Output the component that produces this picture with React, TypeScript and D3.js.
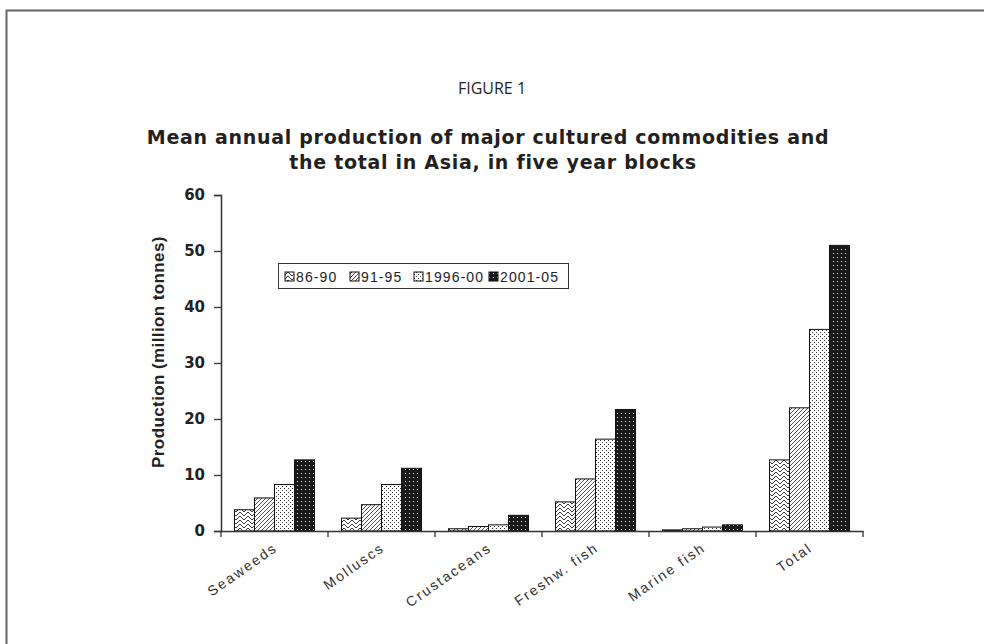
import * as d3 from "d3";
import { useEffect, useRef } from "react";

const categories = ["Seaweeds", "Molluscs", "Crustaceans", "Freshw. fish", "Marine fish", "Total"];
const series = ["86-90", "91-95", "1996-00", "2001-05"];
const v8690 = [3.8, 2.3, 0.4, 5.2, 0.2, 12.7];
const v9195 = [5.9, 4.7, 0.8, 9.3, 0.4, 22.0];
const v9600 = [8.3, 8.3, 1.1, 16.4, 0.7, 36.0];
const v0105 = [12.7, 11.2, 2.8, 21.7, 1.1, 51.0];
const yTicks = [0, 10, 20, 30, 40, 50, 60];

const App = () => {
  const svgRef = useRef(null);

  useEffect(() => {
    const svg = d3.select(svgRef.current);
    svg.selectAll("*").remove();

    const values = [v8690, v9195, v9600, v0105];
    const fills = ["url(#zig)", "url(#hatch)", "url(#dots)", "url(#dark)"];

    // patterns
    const defs = svg.append("defs");
    const zig = defs.append("pattern").attr("id", "zig").attr("patternUnits", "userSpaceOnUse")
      .attr("width", 8).attr("height", 8);
    zig.append("rect").attr("width", 8).attr("height", 8).attr("fill", "#fff");
    zig.append("path").attr("d", "M0,0 L4,4 L8,0 M0,4 L4,8 L8,4")
      .attr("stroke", "#222").attr("stroke-width", 0.9).attr("fill", "none");

    const hatch = defs.append("pattern").attr("id", "hatch").attr("patternUnits", "userSpaceOnUse")
      .attr("width", 4).attr("height", 4);
    hatch.append("rect").attr("width", 4).attr("height", 4).attr("fill", "#fff");
    hatch.append("path").attr("d", "M-1,1 L1,-1 M0,4 L4,0 M3,5 L5,3")
      .attr("stroke", "#222").attr("stroke-width", 0.8);

    const dots = defs.append("pattern").attr("id", "dots").attr("patternUnits", "userSpaceOnUse")
      .attr("width", 4).attr("height", 4);
    dots.append("rect").attr("width", 4).attr("height", 4).attr("fill", "#fff");
    dots.append("rect").attr("x", 0).attr("y", 0).attr("width", 1).attr("height", 1).attr("fill", "#333");
    dots.append("rect").attr("x", 2).attr("y", 2).attr("width", 1).attr("height", 1).attr("fill", "#333");

    const dark = defs.append("pattern").attr("id", "dark").attr("patternUnits", "userSpaceOnUse")
      .attr("width", 4).attr("height", 4);
    dark.append("rect").attr("width", 4).attr("height", 4).attr("fill", "#1a1a1a");
    dark.append("rect").attr("x", 1).attr("y", 1).attr("width", 1).attr("height", 1).attr("fill", "#ddd");

    // frame
    svg.append("path").attr("d", "M6.5,700 L6.5,10.5 L990,10.5")
      .attr("fill", "none").attr("stroke", "#666").attr("stroke-width", 2);

    // titles
    svg.append("text").attr("x", 492).attr("y", 94).attr("text-anchor", "middle")
      .attr("font-family", "Open Sans").attr("font-size", 16).attr("fill", "#231f20").text("FIGURE 1");
    svg.append("text").attr("x", 488).attr("y", 144).attr("text-anchor", "middle")
      .attr("font-family", "DejaVu Sans").attr("font-weight", "bold").attr("font-size", 19)
      .attr("letter-spacing", 0.7)
      .attr("fill", "#231f20").text("Mean annual production of major cultured commodities and");
    svg.append("text").attr("x", 493).attr("y", 169).attr("text-anchor", "middle")
      .attr("font-family", "DejaVu Sans").attr("font-weight", "bold").attr("font-size", 19)
      .attr("letter-spacing", 0.7)
      .attr("fill", "#231f20").text("the total in Asia, in five year blocks");

    const x = d3.scaleBand().domain(categories).range([221, 863]);
    const xs = d3.scaleBand().domain(series).range([0, 80]);
    const y = d3.scaleLinear().domain([0, 60]).range([531, 195]);

    // bars
    series.forEach((s, i) => {
      svg.append("g").selectAll("rect").data(values[i]).enter().append("rect")
        .attr("x", (d, j) => x(categories[j]) + (x.bandwidth() - 80) / 2 + xs(s))
        .attr("y", (d) => y(d))
        .attr("width", xs.bandwidth())
        .attr("height", (d) => y(0) - y(d))
        .attr("fill", fills[i])
        .attr("stroke", "#111").attr("stroke-width", 1);
    });

    // y axis
    const yAxis = svg.append("g").attr("transform", "translate(221,0)")
      .call(d3.axisLeft(y).tickValues(yTicks).tickSize(7).tickPadding(9));
    yAxis.select(".domain").attr("stroke", "#333").attr("stroke-width", 1.5);
    yAxis.selectAll("line").attr("stroke", "#333").attr("stroke-width", 1.3);
    yAxis.selectAll("text").attr("font-family", "DejaVu Sans").attr("font-weight", "bold")
      .attr("font-size", 15).attr("fill", "#222");

    // x axis
    const xAxis = svg.append("g").attr("transform", "translate(0,531)")
      .call(d3.axisBottom(x).tickSize(0).tickFormat(() => ""));
    xAxis.select(".domain").attr("stroke", "#333").attr("stroke-width", 1.5);
    svg.append("g").selectAll("line").data(categories.concat(["end"])).enter().append("line")
      .attr("x1", (d, i) => 221 + i * x.bandwidth()).attr("x2", (d, i) => 221 + i * x.bandwidth())
      .attr("y1", 531).attr("y2", 537).attr("stroke", "#333").attr("stroke-width", 1.3);
    svg.append("g").selectAll("text").data(categories).enter().append("text")
      .attr("transform", (d) => `translate(${x(d) + x.bandwidth() / 2 + 4},550) rotate(-35)`)
      .attr("text-anchor", "end")
      .attr("font-family", "Arial, Liberation Sans").attr("font-size", 14).attr("letter-spacing", 2.0)
      .attr("fill", "#333")
      .text((d) => d);

    // y label
    svg.append("text").attr("transform", "translate(164,352) rotate(-90)").attr("text-anchor", "middle")
      .attr("font-family", "Arial, Liberation Sans").attr("font-weight", "bold").attr("font-size", 17)
      .attr("letter-spacing", 0.4)
      .attr("fill", "#222").text("Production (million tonnes)");

    // legend
    const lg = svg.append("g");
    lg.append("rect").attr("x", 278.5).attr("y", 263.5).attr("width", 290).attr("height", 25)
      .attr("fill", "#fff").attr("stroke", "#333").attr("stroke-width", 1);
    const lx = [285, 350, 414, 489];
    series.forEach((s, i) => {
      lg.append("rect").attr("x", lx[i]).attr("y", 272).attr("width", 9).attr("height", 9)
        .attr("fill", fills[i]).attr("stroke", "#111").attr("stroke-width", 1);
      lg.append("text").attr("x", lx[i] + 11).attr("y", 282)
        .attr("font-family", "Arial, Liberation Sans").attr("font-size", 14).attr("letter-spacing", 1.1)
        .attr("fill", "#222")
        .text(s);
    });
  }, []);

  return (
    <div>
      <svg ref={svgRef} width={984} height={644}
        style={{ position: "absolute", left: 0, top: 0, background: "#fff" }}></svg>
    </div>
  );
};

export default App;
